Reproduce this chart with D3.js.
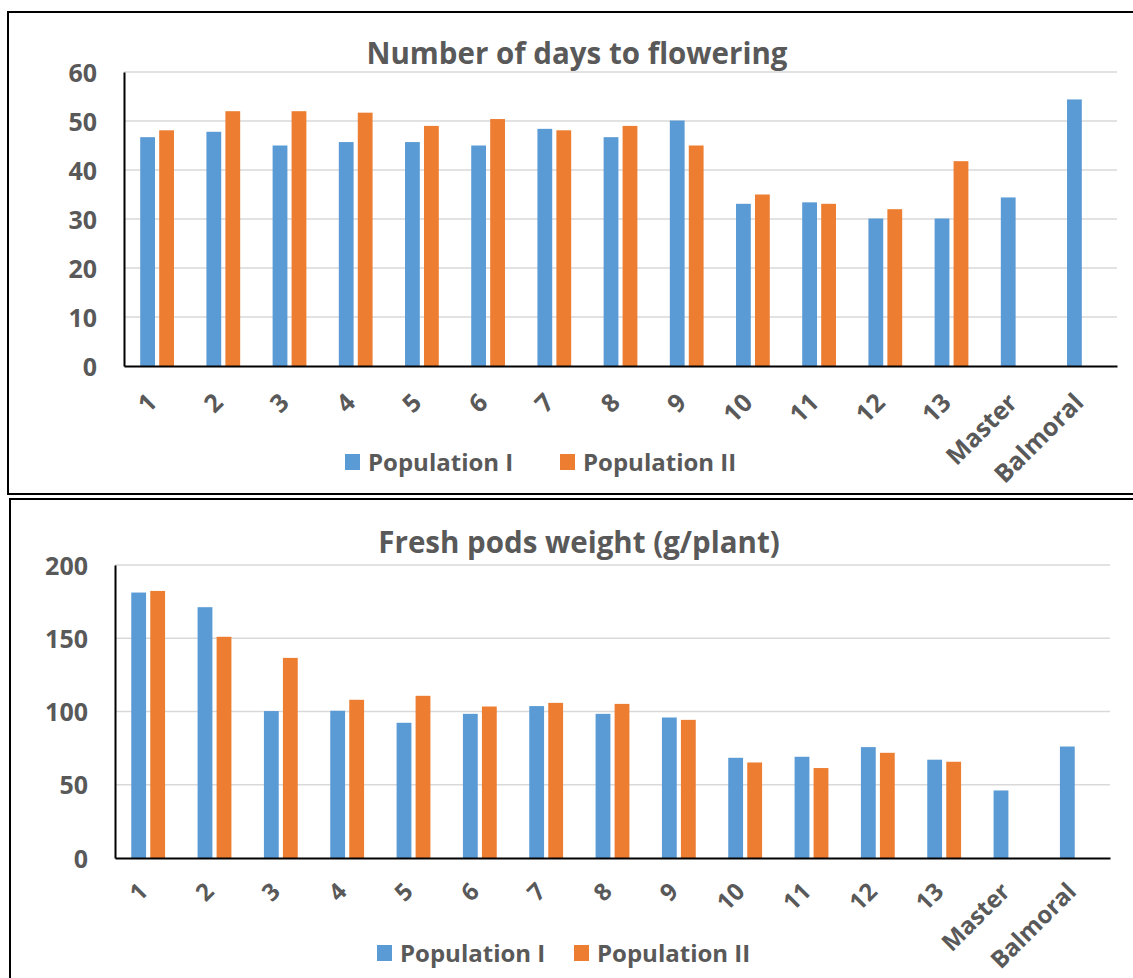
<!DOCTYPE html>
<html>
<head>
<meta charset="utf-8">
<script src="https://cdn.jsdelivr.net/npm/d3@7"></script>
<style>
  html, body { margin: 0; padding: 0; background: #fff; }
  svg { display: block; }
  text { font-family: "Open Sans", "Noto Sans", sans-serif; font-weight: bold; fill: #595959; }
</style>
</head>
<body>
<svg id="chart" width="1133" height="978"></svg>
<script>
// ---------------- data ----------------
const categories = ["1","2","3","4","5","6","7","8","9","10","11","12","13","Master","Balmoral"];
const seriesNames = ["Population I", "Population II"];

const flowerTitle = "Number of days to flowering";
const flowerPopI  = [46.7, 47.8, 45.0, 45.7, 45.7, 45.0, 48.4, 46.7, 50.1, 33.1, 33.4, 30.1, 30.1, 34.4, 54.4];
const flowerPopII = [48.1, 52.0, 52.0, 51.7, 49.0, 50.4, 48.1, 49.0, 45.0, 35.0, 33.1, 32.0, 41.8, null, null];
const flowerTicks = [0, 10, 20, 30, 40, 50, 60];

const podsTitle = "Fresh pods weight (g/plant)";
const podsPopI  = [181.2, 171.2, 100.3, 100.5, 92.3, 98.4, 103.7, 98.4, 95.9, 68.4, 69.1, 75.7, 67.1, 46.1, 76.1];
const podsPopII = [182.3, 151.0, 136.6, 108.0, 110.7, 103.4, 105.9, 105.2, 94.3, 65.2, 61.4, 71.8, 65.7, null, null];
const podsTicks = [0, 50, 100, 150, 200];

const colors = ["#5b9bd5", "#ed7d31"];

// ---------------- drawing ----------------
const svg = d3.select("#chart");

function drawChart(cfg) {
  const g = svg.append("g");

  // frame
  g.append("path")
    .attr("d", `M${cfg.boxRight},${cfg.boxTop} H${cfg.boxLeft} V${cfg.boxBottom} H${cfg.boxRight}`)
    .attr("fill", "none").attr("stroke", "#000").attr("stroke-width", 2);

  const x0 = d3.scaleBand().domain(categories)
    .range([cfg.left, cfg.right]).paddingInner(0.49).paddingOuter(0.245);
  const x1 = d3.scaleBand().domain(seriesNames)
    .range([0, x0.bandwidth()]).paddingInner(0.22);
  const y = d3.scaleLinear().domain([0, cfg.ticks[cfg.ticks.length - 1]])
    .range([cfg.bottom, cfg.top]);

  // gridlines
  g.append("g").selectAll("line").data(cfg.ticks.slice(1)).join("line")
    .attr("x1", cfg.left).attr("x2", cfg.right)
    .attr("y1", d => y(d)).attr("y2", d => y(d))
    .attr("stroke", "#d9d9d9").attr("stroke-width", 1.5);

  // y axis
  const yAxis = g.append("g")
    .attr("transform", `translate(${cfg.left},0)`)
    .call(d3.axisLeft(y).tickValues(cfg.ticks).tickSize(0).tickPadding(27));
  yAxis.select(".domain").attr("stroke", "#000").attr("stroke-width", 2);
  yAxis.selectAll("text").attr("font-size", 25).attr("fill", "#595959")
    .attr("font-family", null).attr("dy", "0.36em");

  // bars
  const rows = categories.map((c, i) => ({ cat: c, vals: [cfg.s1[i], cfg.s2[i]] }));
  const grp = g.append("g").selectAll("g").data(rows).join("g")
    .attr("transform", d => `translate(${x0(d.cat)},0)`);
  grp.selectAll("rect")
    .data(d => d.vals.map((v, k) => ({ name: seriesNames[k], v, k })).filter(e => e.v != null))
    .join("rect")
    .attr("x", e => x1(e.name))
    .attr("width", x1.bandwidth())
    .attr("y", e => y(e.v))
    .attr("height", e => y(0) - y(e.v))
    .attr("fill", e => colors[e.k]);

  // x axis
  const xAxis = g.append("g")
    .attr("transform", `translate(0,${cfg.bottom})`)
    .call(d3.axisBottom(x0).tickSize(0).tickPadding(0));
  xAxis.select(".domain").attr("stroke", "#000").attr("stroke-width", 2);
  xAxis.selectAll(".tick text")
    .attr("font-size", cfg.xLabelSize).attr("fill", "#595959").attr("font-family", null)
    .attr("text-anchor", "end")
    .attr("dy", "0.35em").attr("y", 0)
    .attr("transform", `translate(-5,${cfg.xLabelOffset}) rotate(-45)`);

  // title
  g.append("text")
    .attr("x", cfg.titleX).attr("y", cfg.titleY)
    .attr("text-anchor", "middle").attr("font-size", 29.5)
    .text(cfg.title);

  // legend
  const lg = g.append("g").selectAll("g").data(seriesNames).join("g")
    .attr("transform", (d, i) => `translate(${cfg.legendX[i]},${cfg.legendY})`);
  lg.append("rect").attr("x", 0).attr("y", -8).attr("width", 15).attr("height", 16)
    .attr("fill", (d, i) => colors[i]);
  lg.append("text").attr("x", 23).attr("y", 0).attr("dy", "0.36em")
    .attr("font-size", 24).text(d => d);
}

drawChart({
  boxLeft: 8, boxTop: 12, boxBottom: 494, boxRight: 1140,
  left: 124, right: 1117, top: 72, bottom: 366,
  ticks: flowerTicks, s1: flowerPopI, s2: flowerPopII,
  title: flowerTitle, titleX: 577, titleY: 64,
  legendX: [345, 560], legendY: 462,
  xLabelSize: 25, xLabelOffset: 32
});

drawChart({
  boxLeft: 10, boxTop: 499, boxBottom: 1000, boxRight: 1140,
  left: 115, right: 1110, top: 565, bottom: 858,
  ticks: podsTicks, s1: podsPopI, s2: podsPopII,
  title: podsTitle, titleX: 579, titleY: 553,
  legendX: [377, 574], legendY: 953,
  xLabelSize: 24, xLabelOffset: 29
});
</script>
</body>
</html>
